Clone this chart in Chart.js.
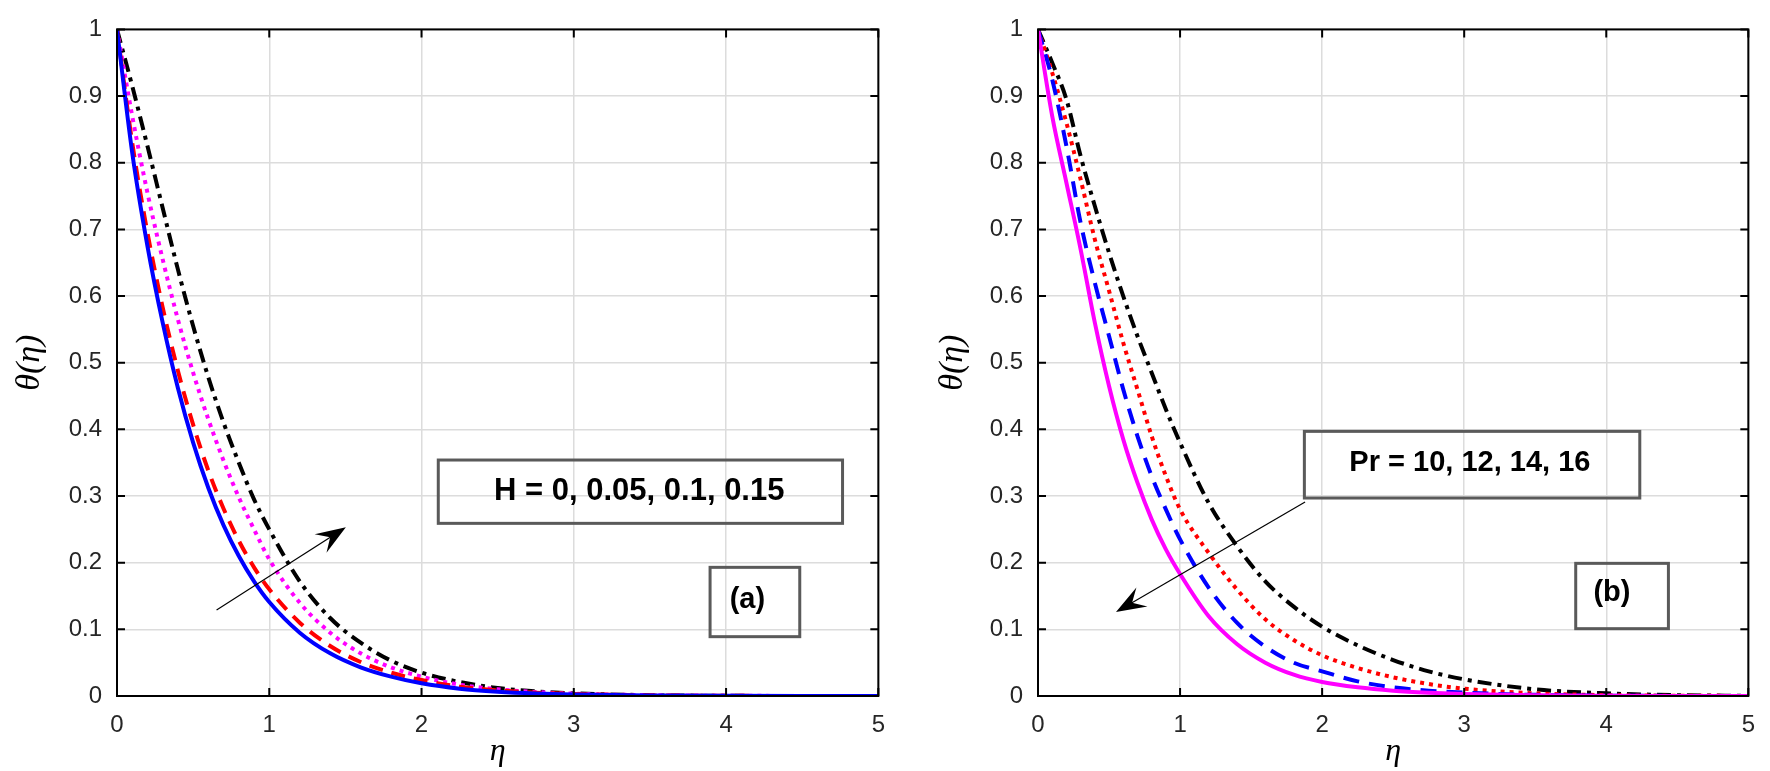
<!DOCTYPE html>
<html>
<head>
<meta charset="utf-8">
<script src="https://cdn.jsdelivr.net/npm/chart.js@4"></script>
<style>
  body { margin: 0; background: #fff; }
  #wrapA { position: absolute; left: 0; top: 0; width: 900px; height: 771px; }
  #wrapB { position: absolute; left: 900px; top: 0; width: 870px; height: 771px; }
</style>
</head>
<body>
<div id="wrapA"><canvas id="chartA"></canvas></div>
<div id="wrapB"><canvas id="chartB"></canvas></div>
<script>
// similarity variable, shared by both panels
const eta = [0, 0.1, 0.2, 0.3, 0.4, 0.5, 0.6, 0.7, 0.8, 0.9, 1.0, 1.2, 1.4, 1.6, 1.8, 2.0, 2.25, 2.5, 2.75, 3.0, 3.5, 4.0, 4.5, 5.0];

// panel (a): H = 0, 0.05, 0.1, 0.15
const thetaH0   = [1, 0.815, 0.675, 0.56, 0.462, 0.38, 0.312, 0.256, 0.21, 0.172, 0.141, 0.095, 0.064, 0.043, 0.029, 0.019, 0.011, 0.0065, 0.0038, 0.0022, 0.0007, 0.0002, 0.0001, 0];
const thetaH005 = [1, 0.83, 0.695, 0.583, 0.488, 0.407, 0.338, 0.281, 0.233, 0.193, 0.16, 0.11, 0.075, 0.051, 0.035, 0.024, 0.014, 0.0085, 0.005, 0.003, 0.001, 0.0003, 0.0001, 0];
const thetaH01  = [1, 0.87, 0.755, 0.655, 0.565, 0.485, 0.415, 0.353, 0.298, 0.25, 0.205, 0.14, 0.095, 0.064, 0.043, 0.029, 0.017, 0.01, 0.006, 0.0035, 0.0012, 0.0004, 0.0001, 0];
const thetaH015 = [1, 0.915, 0.825, 0.732, 0.64, 0.555, 0.478, 0.41, 0.35, 0.295, 0.25, 0.172, 0.117, 0.08, 0.053, 0.035, 0.021, 0.012, 0.007, 0.004, 0.0012, 0.0003, 0.0001, 0];

// panel (b): Pr = 10, 12, 14, 16
const thetaPr10 = [1, 0.95, 0.895, 0.81, 0.735, 0.665, 0.6, 0.54, 0.485, 0.43, 0.38, 0.29, 0.225, 0.172, 0.134, 0.104, 0.076, 0.054, 0.037, 0.025, 0.01, 0.004, 0.0012, 0.0003];
const thetaPr12 = [1, 0.935, 0.86, 0.775, 0.685, 0.608, 0.53, 0.46, 0.39, 0.33, 0.28, 0.215, 0.16, 0.115, 0.084, 0.061, 0.042, 0.028, 0.018, 0.011, 0.004, 0.0013, 0.0004, 0.0001];
const thetaPr14 = [1, 0.925, 0.825, 0.71, 0.62, 0.54, 0.46, 0.39, 0.33, 0.28, 0.235, 0.163, 0.11, 0.074, 0.05, 0.037, 0.022, 0.013, 0.008, 0.005, 0.0017, 0.0005, 0.00015, 0];
const thetaPr16 = [1, 0.87, 0.77, 0.67, 0.56, 0.465, 0.385, 0.32, 0.265, 0.22, 0.183, 0.12, 0.078, 0.05, 0.032, 0.021, 0.013, 0.008, 0.005, 0.003, 0.001, 0.0003, 0.0001, 0];

const xTicks = [0, 1, 2, 3, 4, 5];
const yTicks = [0, 0.1, 0.2, 0.3, 0.4, 0.5, 0.6, 0.7, 0.8, 0.9, 1];

const toPoints = ys => eta.map((x, i) => ({ x: x, y: ys[i] }));

function line(ys, color, dash) {
  return {
    data: toPoints(ys),
    borderColor: color,
    borderWidth: 4,
    borderDash: dash,
    pointRadius: 0,
    fill: false,
    cubicInterpolationMode: 'monotone'
  };
}

// box frame, inward ticks, text boxes and arrows
const notesPlugin = {
  id: 'notes',
  afterDraw(chart, args, opts) {
    const ctx = chart.ctx;
    const a = chart.chartArea;
    const xs = chart.scales.x, ys = chart.scales.y;
    ctx.save();

    ctx.strokeStyle = '#000';
    ctx.lineWidth = 2;
    ctx.strokeRect(a.left, a.top, a.right - a.left, a.bottom - a.top);
    ctx.beginPath();
    xTicks.forEach(v => {
      const px = xs.getPixelForValue(v);
      ctx.moveTo(px, a.bottom); ctx.lineTo(px, a.bottom - 8);
      ctx.moveTo(px, a.top); ctx.lineTo(px, a.top + 8);
    });
    yTicks.forEach(v => {
      const py = ys.getPixelForValue(v);
      ctx.moveTo(a.left, py); ctx.lineTo(a.left + 8, py);
      ctx.moveTo(a.right, py); ctx.lineTo(a.right - 8, py);
    });
    ctx.stroke();

    (opts.boxes || []).forEach(b => {
      const x0 = xs.getPixelForValue(b.x0), x1 = xs.getPixelForValue(b.x1);
      const y0 = ys.getPixelForValue(b.y0), y1 = ys.getPixelForValue(b.y1);
      ctx.strokeStyle = '#5a5a5a';
      ctx.lineWidth = 3;
      ctx.strokeRect(x0, y0, x1 - x0, y1 - y0);
      ctx.fillStyle = '#000';
      ctx.font = 'bold ' + b.size + 'px "Liberation Sans", Arial, sans-serif';
      ctx.textAlign = 'center';
      ctx.textBaseline = 'middle';
      ctx.fillText(b.text, xs.getPixelForValue(b.tx), ys.getPixelForValue(b.ty));
    });

    (opts.arrows || []).forEach(ar => {
      const sx = xs.getPixelForValue(ar.x0), sy = ys.getPixelForValue(ar.y0);
      const ex = xs.getPixelForValue(ar.x1), ey = ys.getPixelForValue(ar.y1);
      const ang = Math.atan2(ey - sy, ex - sx);
      const L = 30, W = 11;
      ctx.strokeStyle = '#000';
      ctx.lineWidth = 1.2;
      ctx.beginPath();
      ctx.moveTo(sx, sy);
      ctx.lineTo(ex - Math.cos(ang) * L * 0.6, ey - Math.sin(ang) * L * 0.6);
      ctx.stroke();
      const bx = ex - Math.cos(ang) * L, by = ey - Math.sin(ang) * L;
      const nx = -Math.sin(ang) * W, ny = Math.cos(ang) * W;
      ctx.fillStyle = '#000';
      ctx.beginPath();
      ctx.moveTo(ex, ey);
      ctx.lineTo(bx + nx, by + ny);
      ctx.lineTo(ex - Math.cos(ang) * L * 0.62, ey - Math.sin(ang) * L * 0.62);
      ctx.lineTo(bx - nx, by - ny);
      ctx.closePath();
      ctx.fill();
    });
    ctx.restore();
  }
};

function makeOptions(yWidth, yTitlePad, rightPad, notes) {
  const tickFont = { family: '"Liberation Sans", Arial, sans-serif', size: 24 };
  return {
    responsive: true,
    maintainAspectRatio: false,
    animation: false,
    layout: { padding: { top: 13, right: rightPad, left: 0, bottom: 0 } },
    plugins: { legend: { display: false }, tooltip: { enabled: false }, notes: notes },
    scales: {
      x: {
        type: 'linear', min: 0, max: 5,
        afterBuildTicks: s => { s.ticks = xTicks.map(v => ({ value: v })); },
        afterFit: s => { s.height = 75; },
        grid: { color: '#dcdcdc', lineWidth: 1.5, drawTicks: false },
        border: { display: false },
        ticks: { color: '#262626', font: tickFont, padding: 15, maxRotation: 0 },
        title: {
          display: true, text: 'η', color: '#000',
          font: { family: '"Liberation Serif", "DejaVu Serif", serif', style: 'italic', size: 32, lineHeight: 1 },
          padding: { top: 0, bottom: 3 }
        }
      },
      y: {
        type: 'linear', min: 0, max: 1,
        afterBuildTicks: s => { s.ticks = yTicks.map(v => ({ value: v })); },
        afterFit: s => { s.width = yWidth; },
        grid: { color: '#dcdcdc', lineWidth: 1.5, drawTicks: false },
        border: { display: false },
        ticks: { color: '#262626', font: tickFont, padding: 15, callback: v => String(Math.round(v * 10) / 10) },
        title: {
          display: true, text: 'θ(η)', color: '#000',
          font: { family: '"Liberation Serif", "DejaVu Serif", serif', style: 'italic', size: 34, lineHeight: 1 },
          padding: { top: yTitlePad, bottom: 0 }
        }
      }
    }
  };
}

new Chart(document.getElementById('chartA'), {
  type: 'line',
  data: {
    datasets: [
      line(thetaH0, '#0000ff', []),
      line(thetaH005, '#ff0000', [14, 9]),
      line(thetaH01, '#ff00ff', [4, 5]),
      line(thetaH015, '#000000', [14, 6, 4, 6])
    ]
  },
  options: makeOptions(117, 13, 18, {
    boxes: [
      { x0: 2.11, x1: 4.765, y0: 0.354, y1: 0.259, text: 'H = 0, 0.05, 0.1, 0.15', size: 31, tx: 3.43, ty: 0.307 },
      { x0: 3.895, x1: 4.484, y0: 0.193, y1: 0.089, text: '(a)', size: 29, tx: 4.14, ty: 0.144 }
    ],
    arrows: [{ x0: 0.654, y0: 0.129, x1: 1.503, y1: 0.253 }]
  }),
  plugins: [notesPlugin]
});

new Chart(document.getElementById('chartB'), {
  type: 'line',
  data: {
    datasets: [
      line(thetaPr16, '#ff00ff', []),
      line(thetaPr14, '#0000ff', [16, 10]),
      line(thetaPr12, '#ff0000', [4, 5]),
      line(thetaPr10, '#000000', [14, 6, 4, 6])
    ]
  },
  options: makeOptions(138, 36, 12, {
    boxes: [
      { x0: 1.875, x1: 4.236, y0: 0.397, y1: 0.297, text: 'Pr = 10, 12, 14, 16', size: 29, tx: 3.04, ty: 0.35 },
      { x0: 3.785, x1: 4.4375, y0: 0.199, y1: 0.101, text: '(b)', size: 29, tx: 4.04, ty: 0.155 }
    ],
    arrows: [{ x0: 1.88, y0: 0.291, x1: 0.549, y1: 0.126 }]
  }),
  plugins: [notesPlugin]
});
</script>
</body>
</html>
